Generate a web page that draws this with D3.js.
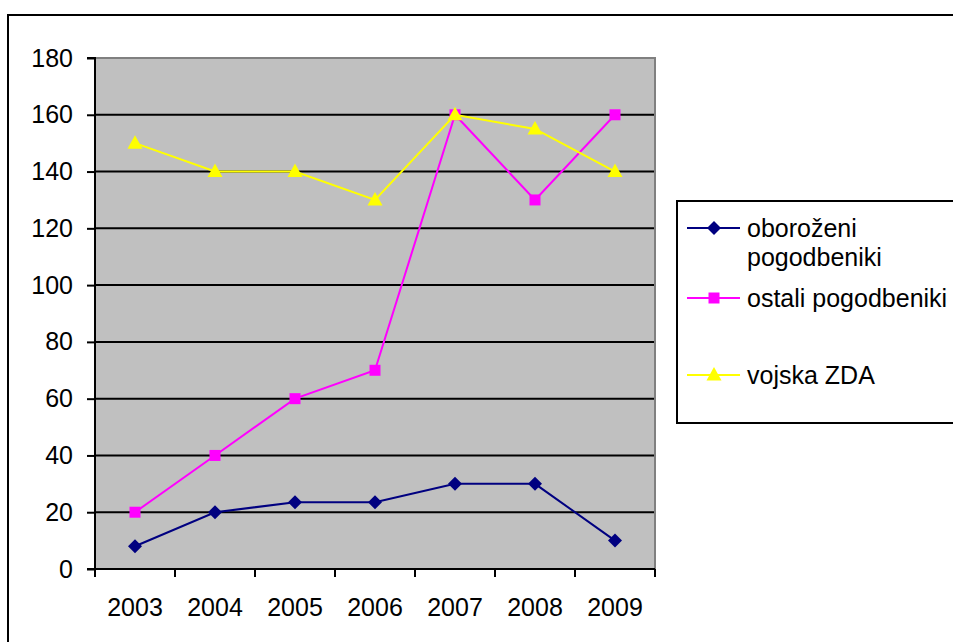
<!DOCTYPE html>
<html>
<head>
<meta charset="utf-8">
<script src="https://cdn.jsdelivr.net/npm/d3@7"></script>
<style>
  html, body { margin: 0; padding: 0; background: #fff; }
  svg { display: block; font-family: "Liberation Sans", Arial, sans-serif; }
</style>
</head>
<body>
<svg id="chart" width="953" height="642"></svg>
<script>
const years = ["2003", "2004", "2005", "2006", "2007", "2008", "2009"];
const oborozeni = [8, 20, 23.5, 23.5, 30, 30, 10];
const ostali = [20, 40, 60, 70, 160, 130, 160];
const vojska = [150, 140, 140, 130, 160, 155, 140];
const yTicks = [0, 20, 40, 60, 80, 100, 120, 140, 160, 180];

const series = [
  { name: ["oboroženi", "pogodbeniki"], values: oborozeni, color: "#000080", marker: "diamond" },
  { name: ["ostali pogodbeniki"], values: ostali, color: "#FF00FF", marker: "square" },
  { name: ["vojska ZDA"], values: vojska, color: "#FFFF00", marker: "triangle" }
];

const svg = d3.select("#chart");
const fontSize = 25;

// outer chart frame (continues past the right and bottom edges)
svg.append("rect")
  .attr("x", 8).attr("y", 15).attr("width", 960).attr("height", 640)
  .attr("fill", "#fff").attr("stroke", "#000").attr("stroke-width", 2);

const plot = { left: 95, top: 58, right: 655, bottom: 569 };

const x = d3.scaleBand().domain(years).range([plot.left, plot.right]);
const y = d3.scaleLinear().domain([0, 180]).range([plot.bottom, plot.top]);

// plot background
svg.append("rect")
  .attr("x", plot.left).attr("y", plot.top)
  .attr("width", plot.right - plot.left).attr("height", plot.bottom - plot.top)
  .attr("fill", "#C0C0C0");

// gridlines
svg.append("g").selectAll("line").data(yTicks.filter(d => d > 0 && d < 180)).join("line")
  .attr("x1", plot.left).attr("x2", plot.right)
  .attr("y1", d => y(d)).attr("y2", d => y(d))
  .attr("stroke", "#000").attr("stroke-width", 2);

// plot border top / right
svg.append("path")
  .attr("d", `M${plot.left},${plot.top}H${plot.right}V${plot.bottom}`)
  .attr("fill", "none").attr("stroke", "#808080").attr("stroke-width", 2);

// y axis
const yAxis = svg.append("g")
  .attr("transform", `translate(${plot.left},0)`)
  .call(d3.axisLeft(y).tickValues(yTicks).tickSize(8).tickPadding(14));
// x axis: ticks at band edges
const xAxisG = svg.append("g")
  .attr("transform", `translate(0,${plot.bottom})`)
  .call(d3.axisBottom(x).tickSize(0).tickPadding(29));

[yAxis, xAxisG].forEach(g => {
  g.select(".domain").attr("stroke", "#000").attr("stroke-width", 2);
  g.selectAll(".tick line").attr("stroke", "#000").attr("stroke-width", 2);
  g.selectAll("text").attr("fill", "#000").style("font-size", fontSize + "px")
    .style("font-family", '"Liberation Sans", Arial, sans-serif');
});
yAxis.select(".domain").attr("d", `M-8,${plot.top}H0V${plot.bottom}H-8`);
xAxisG.select(".domain").attr("d", `M${plot.left},0H${plot.right}`);
xAxisG.selectAll(".tick text").attr("dy", "0.71em");

const edges = years.map(d => x(d)).concat([plot.right]);
svg.append("g").selectAll("line").data(edges).join("line")
  .attr("x1", d => d).attr("x2", d => d)
  .attr("y1", plot.bottom).attr("y2", plot.bottom + 8)
  .attr("stroke", "#000").attr("stroke-width", 2);

function markerPath(type) {
  if (type === "diamond") return "M0,-7L7,0L0,7L-7,0Z";
  if (type === "square") return "M-5.5,-5.5H5.5V5.5H-5.5Z";
  return "M0,-8L7.5,5.5H-7.5Z";
}

const line = d3.line()
  .x((d, i) => x(years[i]) + x.bandwidth() / 2)
  .y(d => y(d));

series.forEach(s => {
  svg.append("path").datum(s.values)
    .attr("d", line).attr("fill", "none")
    .attr("stroke", s.color).attr("stroke-width", 2);
  svg.append("g").selectAll("path").data(s.values).join("path")
    .attr("transform", (d, i) => `translate(${x(years[i]) + x.bandwidth() / 2},${y(d)})`)
    .attr("d", markerPath(s.marker))
    .attr("fill", s.color);
});

// legend
const legend = svg.append("g");
legend.append("rect")
  .attr("x", 677).attr("y", 201).attr("width", 300).attr("height", 222)
  .attr("fill", "#fff").attr("stroke", "#000").attr("stroke-width", 2);

const legendY = [228, 298, 375];
series.forEach((s, i) => {
  const ly = legendY[i];
  legend.append("line")
    .attr("x1", 687).attr("x2", 740).attr("y1", ly).attr("y2", ly)
    .attr("stroke", s.color).attr("stroke-width", 2);
  legend.append("path")
    .attr("transform", `translate(714,${ly})`)
    .attr("d", markerPath(s.marker)).attr("fill", s.color);
  const t = legend.append("text")
    .attr("x", 747).attr("y", ly)
    .style("font-size", fontSize + "px").attr("fill", "#000");
  s.name.forEach((n, j) => {
    t.append("tspan").attr("x", 747).attr("dy", j === 0 ? "0.35em" : "1.15em").text(n);
  });
});
</script>
</body>
</html>
